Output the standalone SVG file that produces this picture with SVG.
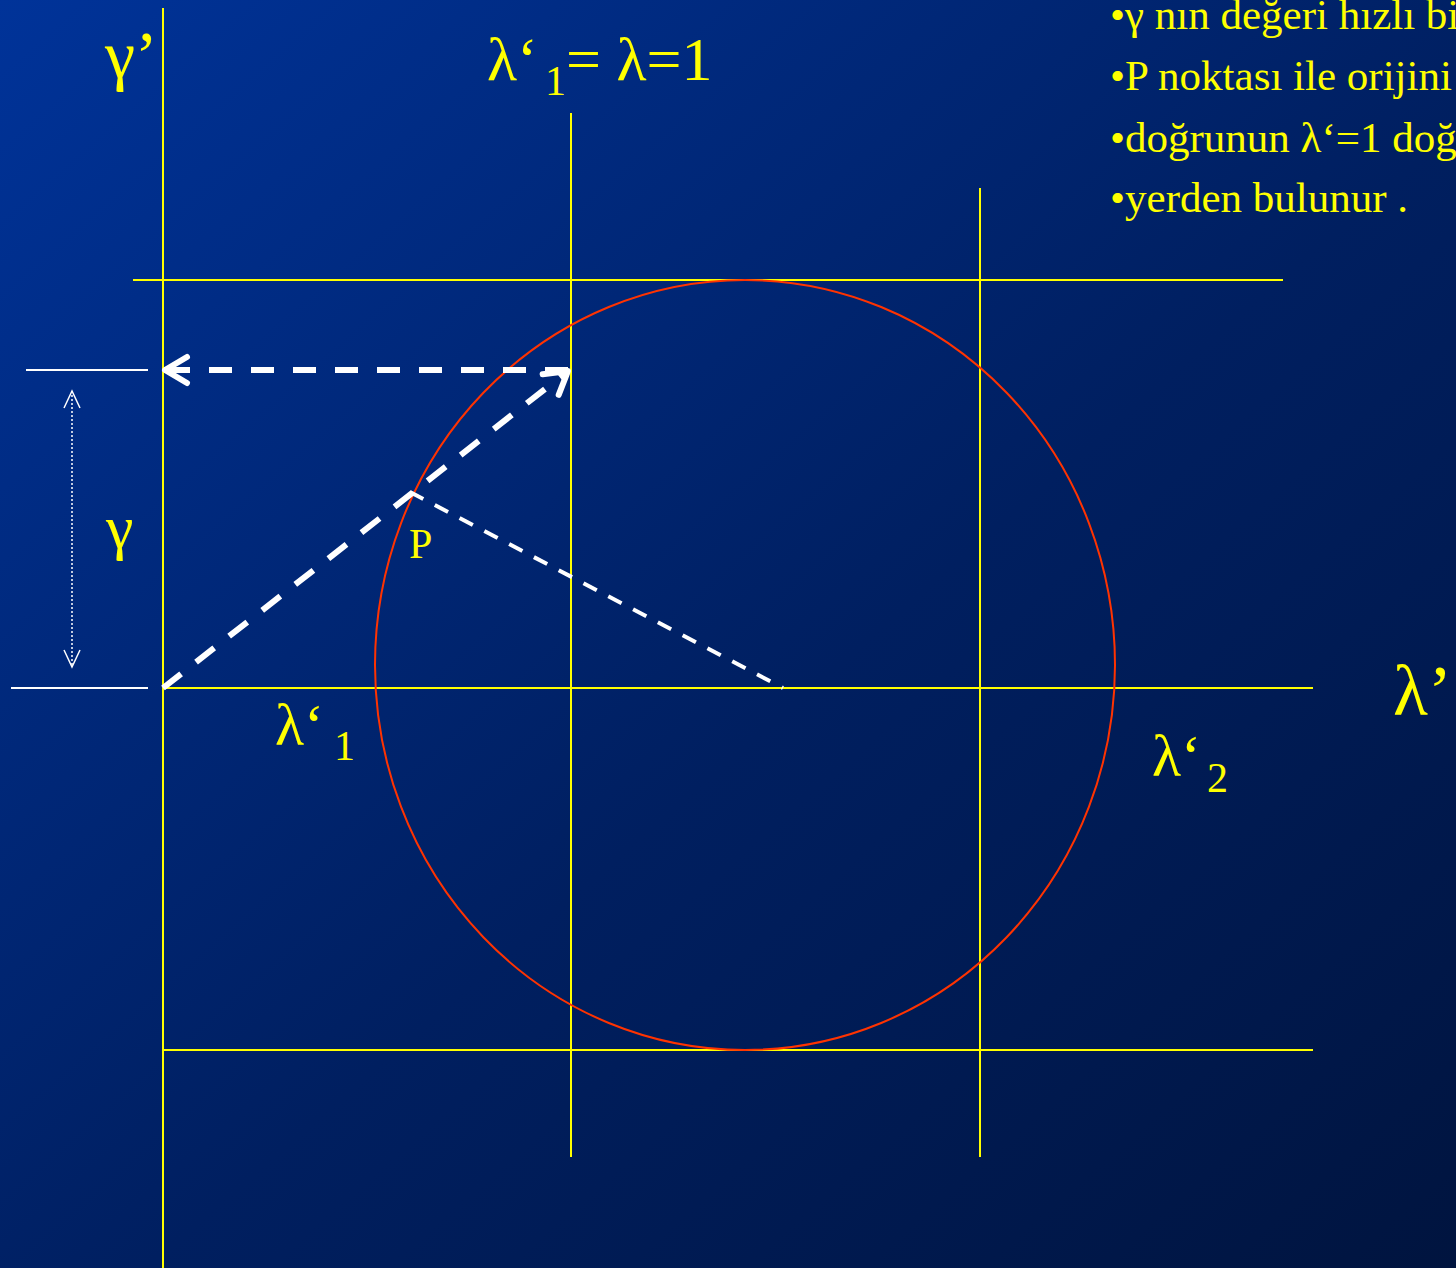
<svg xmlns="http://www.w3.org/2000/svg" width="1456" height="1268" viewBox="0 0 1456 1268">
<defs>
<linearGradient id="bg" x1="0" y1="0" x2="1" y2="1">
<stop offset="0" stop-color="#003399"/>
<stop offset="0.55" stop-color="#001f60"/>
<stop offset="1" stop-color="#00143f"/>
</linearGradient>
<marker id="chev" viewBox="-30 -20 34 40" markerWidth="34" markerHeight="40" refX="0" refY="0" orient="auto" markerUnits="userSpaceOnUse">
<path d="M-22,-13 L0,0 L-22,13" fill="none" stroke="#fff" stroke-width="6" stroke-linecap="round" stroke-linejoin="round"/>
</marker>
<marker id="thin" viewBox="-20 -12 24 24" markerWidth="24" markerHeight="24" refX="0" refY="0" orient="auto-start-reverse" markerUnits="userSpaceOnUse">
<path d="M-17,-8 L0,0 L-17,8" fill="none" stroke="#fff" stroke-width="1.5"/>
</marker>
</defs>
<style>
.y{stroke:#ffff00;stroke-width:2;fill:none}
.w{stroke:#ffffff;stroke-width:2;fill:none}
.t{font-family:"Liberation Serif","Times New Roman",serif;fill:#ffff00}
</style>
<rect width="1456" height="1268" fill="url(#bg)"/>
<g id="grid">
<line class="y" x1="163" y1="8" x2="163" y2="1268"/>
<line class="y" x1="571" y1="113" x2="571" y2="1157"/>
<line class="y" x1="980" y1="188" x2="980" y2="1157"/>
<line class="y" x1="133" y1="280" x2="1283" y2="280"/>
<line class="y" x1="163" y1="688" x2="1313" y2="688"/>
<line class="y" x1="163" y1="1050" x2="1313" y2="1050"/>
<line class="w" x1="26" y1="370" x2="148" y2="370"/>
<line class="w" x1="11" y1="688" x2="148" y2="688"/>
</g>
<g id="circle">
<ellipse cx="745" cy="665" rx="370" ry="385" fill="none" stroke="#ff3300" stroke-width="2"/>
</g>
<g id="connectors">
<line x1="163" y1="688" x2="568" y2="371" stroke="#fff" stroke-width="6" stroke-dasharray="23 19" marker-end="url(#chev)"/>
<line x1="568" y1="370" x2="165" y2="370" stroke="#fff" stroke-width="6" stroke-dasharray="23 19" marker-end="url(#chev)"/>
<line x1="410" y1="492" x2="783" y2="688" stroke="#fff" stroke-width="4" stroke-dasharray="15 13"/>
<line x1="72" y1="391" x2="72" y2="667" stroke="#fff" stroke-width="1.5" stroke-dasharray="2 2" marker-start="url(#thin)" marker-end="url(#thin)"/>
</g>
<g id="labels">
<text class="t" x="105" y="78" font-size="68">γ’</text>
<text class="t" x="487" y="80" font-size="62">λ‘<tspan x="545" y="95" font-size="42">1</tspan><tspan x="566" y="80">= λ=1</tspan></text>
<text class="t" x="106" y="548" font-size="62">γ</text>
<text class="t" x="409" y="558" font-size="42">P</text>
<text class="t" x="275" y="745" font-size="60">λ‘<tspan x="334" y="760" font-size="42">1</tspan></text>
<text class="t" x="1152" y="776" font-size="60">λ‘<tspan x="1207" y="792" font-size="42">2</tspan></text>
<text class="t" x="1393" y="715" font-size="72">λ’</text>
</g>
<g id="notes" class="t" font-size="43">
<text x="1110" y="29">•γ nın değeri hızlı bi</text>
<text x="1110" y="90">•P noktası ile orijini</text>
<text x="1110" y="152">•doğrunun λ‘=1 doğ</text>
<text x="1110" y="212">•yerden bulunur .</text>
</g>
</svg>
